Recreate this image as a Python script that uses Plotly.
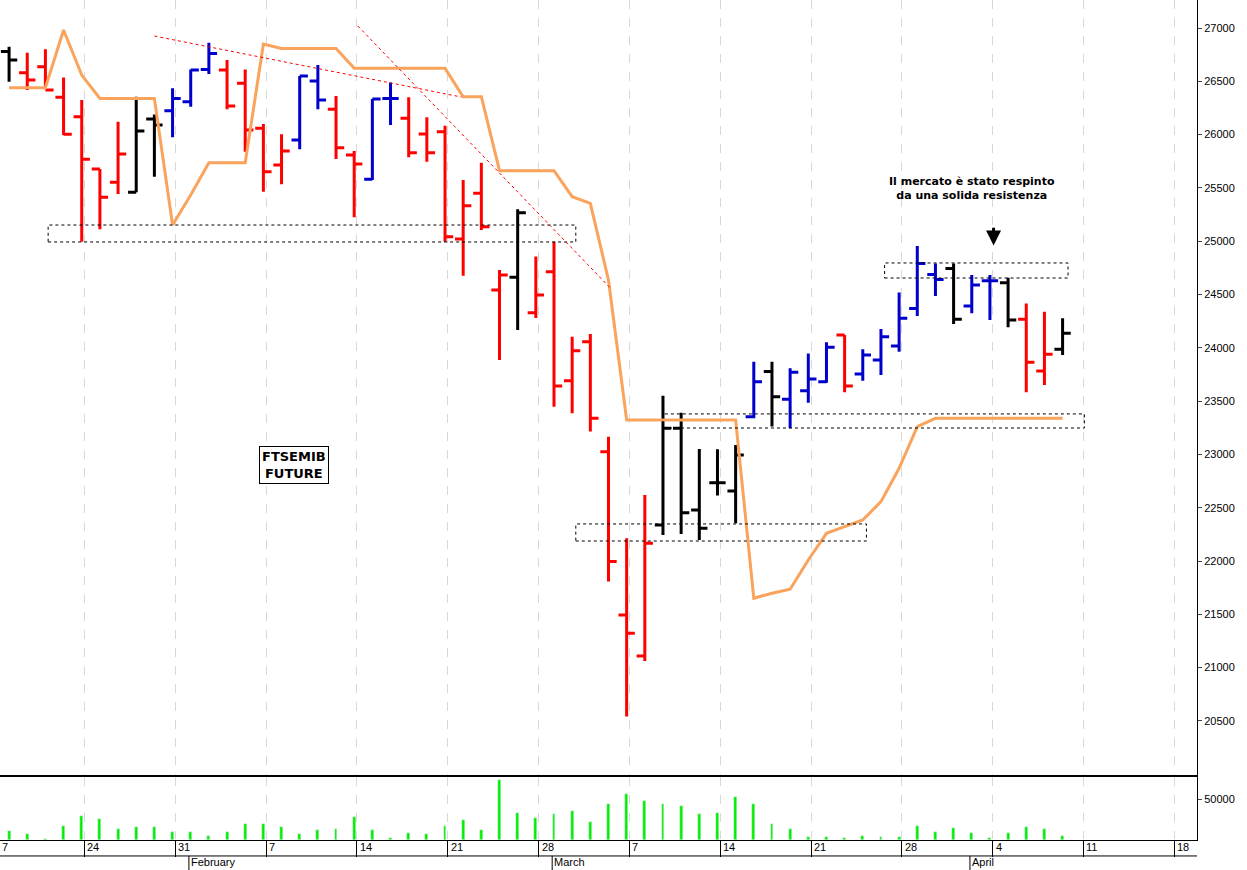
import plotly.graph_objects as go
from plotly.subplots import make_subplots

# trading day index 0 = 18 Jan 2022 ... 58 = 8 Apr 2022
opens = [26780, 26581, 26637, 26350, 26168, 25678, 25553, 25459, 26147, 26225,
         26309, 26612, 26606, 26481, 26059, 25715, 25950, 26503, 26237, 25809,
         25581, 26340, 26153, 26006, 26028, 25021, 25450, 24543, 24662, 24330,
         24714, 23692, 24058, 23026, 21494, 21110, 22338, 23245, 22479, 22735,
         22657, 23354, 23777, 23517, 23598, 23683, 24120, 23755, 23886, 24017,
         24370, 24689, 24745, 24392, 24630, 24611, 24267, 23783, 23986]
highs = [26825, 26769, 26800, 26537, 26325, 25678, 26122, 26356, 26190, 26434,
         26612, 26862, 26700, 26612, 26100, 26003, 26550, 26653, 26362, 25846,
         26334, 26490, 26350, 26162, 26084, 25575, 25737, 24731, 25299, 24856,
         24996, 24105, 24130, 23167, 22213, 22620, 23551, 23392, 23051, 23048,
         23089, 23870, 23870, 23808, 23948, 24052, 24120, 23986, 24177, 24520,
         24955, 24792, 24792, 24683, 24683, 24658, 24417, 24339, 24277]
lows = [26497, 26419, 26450, 25997, 24996, 25112, 25443, 25459, 25606, 25975,
        26262, 26569, 26237, 25840, 25465, 25534, 25862, 26237, 25771, 25224,
        25575, 26090, 25787, 25746, 24996, 24677, 25106, 23886, 24168, 24280,
        23448, 23386, 23214, 21807, 20541, 21063, 22245, 22254, 22198, 22614,
        22354, 23339, 23261, 23245, 23486, 23673, 23583, 23692, 23745, 23964,
        24298, 24486, 24224, 24324, 24261, 24192, 23583, 23651, 23933]
closes = [26700, 26512, 26419, 26003, 25768, 25412, 25818, 26034, 26090, 26340,
          26606, 26762, 26268, 26043, 25653, 25846, 26550, 26325, 25878, 25725,
          26334, 26340, 25831, 25831, 25043, 25334, 25137, 24684, 25268, 24495,
          23642, 23973, 23339, 21995, 21323, 22167, 23245, 22454, 22307, 22735,
          22995, 23683, 23542, 23770, 23708, 24005, 23642, 23933, 24105, 24277,
          24792, 24642, 24267, 24589, 24630, 24261, 23864, 23939, 24136]
bar_colors = ["k", "r", "r", "r", "r", "r", "r", "k", "k", "b",
              "b", "b", "r", "r", "r", "r", "b", "b", "r", "r",
              "b", "b", "r", "r", "r", "r", "r", "r", "k", "r",
              "r", "r", "r", "r", "r", "r", "k", "k", "k", "k",
              "k", "b", "k", "b", "b", "b", "r", "b", "b", "b",
              "b", "b", "k", "b", "b", "k", "r", "r", "k"]
orange_line = [26440, 26440, 26440, 26981, 26559, 26340, 26340, 26340, 26340, 25153,
               25434, 25737, 25737, 25737, 26850, 26809, 26809, 26809, 26809, 26622,
               26622, 26622, 26622, 26622, 26622, 26356, 26356, 25662, 25662, 25662,
               25662, 25418, 25356, 24636, 23323, 23323, 23323, 23323, 23323, 23323,
               23323, 21651, 21698, 21735, 22010, 22260, 22323, 22385, 22557, 22870,
               23261, 23339, 23339, 23339, 23339, 23339, 23339, 23339, 23339]
volume = [11000, 7300, 1200, 17000, 29300, 25200, 13000, 15400, 16300, 9800,
          9800, 4900, 9800, 19100, 19900, 15900, 7300, 12200, 13400, 28000,
          11800, 2400, 8500, 6900, 17500, 24400, 11800, 73200, 33300, 26400,
          31300, 35400, 22400, 43900, 56100, 48000, 43900, 41500, 31700, 33300,
          52800, 43900, 19500, 13000, 3700, 3300, 2400, 4900, 3700, 3700,
          17100, 9300, 14200, 8500, 2400, 8500, 15400, 13800, 5300]

# weekly ticks (Mondays) and month starts
week_idx = [4, 9, 14, 19, 24, 29, 34, 39, 44, 49, 54, 59, 64]
week_lbl = ["24", "31", "7", "14", "21", "28", "7", "14", "21", "28", "4", "11", "18"]
month_idx = [10, 30, 53]
month_lbl = ["February", "March", "April"]

# zones (x from, x to, price low, price high) and trendlines
zones = [(2.15, 31.2, 24993, 25152), (31.2, 47.2, 22188, 22348),
         (36.0, 59.2, 23248, 23380), (48.2, 58.3, 24655, 24796)]
trendlines = [(8.0, 26925, 24.9, 26353), (19.2, 27019, 33.1, 24561)]

x = list(range(len(closes)))
cmap = {"r": "#ff0000", "b": "#0000cc", "k": "#000000"}

fig = make_subplots(rows=2, cols=1, shared_xaxes=True, vertical_spacing=0.0024,
                    row_heights=[0.9226, 0.075])

for key, col in cmap.items():
    idx = [i for i in x if bar_colors[i] == key]
    fig.add_trace(go.Ohlc(
        x=idx, open=[opens[i] for i in idx], high=[highs[i] for i in idx],
        low=[lows[i] for i in idx], close=[closes[i] for i in idx],
        increasing=dict(line=dict(color=col, width=3)),
        decreasing=dict(line=dict(color=col, width=3)),
        tickwidth=0.45, showlegend=False, hoverinfo="skip"), row=1, col=1)

fig.add_trace(go.Scatter(x=x, y=orange_line, mode="lines",
                         line=dict(color="#f9a35c", width=3), showlegend=False),
              row=1, col=1)

fig.add_trace(go.Bar(x=x, y=volume, marker_color="#00ee00", width=0.16,
                     showlegend=False), row=2, col=1)

for x0, x1, y0, y1 in zones:
    fig.add_shape(type="rect", x0=x0, x1=x1, y0=y0, y1=y1, xref="x", yref="y",
                  line=dict(color="black", width=1, dash="dot"))
for x0, y0, x1, y1 in trendlines:
    fig.add_shape(type="line", x0=x0, x1=x1, y0=y0, y1=y1, xref="x", yref="y",
                  line=dict(color="#ff0000", width=1, dash="dot"))

font = dict(family="Liberation Sans Narrow, Liberation Sans", size=11, color="black")
grid = dict(showgrid=True, gridcolor="#d8d8d8", griddash="dash", gridwidth=1,
            tickmode="array", tickvals=[w + 0.15 for w in week_idx],
            range=[-0.5, 65.4], zeroline=False)
fig.update_xaxes(**grid, showticklabels=False, showline=True, linecolor="black",
                 rangeslider_visible=False)
fig.update_xaxes(row=2, col=1, ticks="outside", ticklen=16, tickcolor="black",
                 mirror=True)
fig.update_yaxes(side="right", range=[19993, 27263], tickvals=list(range(20500, 27001, 500)),
                 tickformat="d", ticks="outside", ticklen=4, showgrid=False, showline=True,
                 linecolor="black", tickfont=font, row=1, col=1)
fig.update_yaxes(side="right", range=[0, 77000], tickvals=[50000], tickformat="d",
                 ticks="outside", ticklen=4, showgrid=False, showline=True,
                 linecolor="black", tickfont=font, row=2, col=1)

for w, t in zip(week_idx, week_lbl):
    fig.add_annotation(x=w + 0.15, y=0, xref="x2", yref="paper", yanchor="top",
                       xanchor="left", text=t, showarrow=False, font=font, xshift=1, yshift=1)
fig.add_annotation(x=0, y=0, xref="paper", yref="paper", yanchor="top", xanchor="left",
                   text="7", showarrow=False, font=font, yshift=1)
fig.add_shape(type="line", xref="paper", yref="paper", x0=0, x1=1, y0=-0.019, y1=-0.019,
              line=dict(color="black", width=1))
for m, t in zip(month_idx, month_lbl):
    fig.add_shape(type="line", xref="x2", yref="paper", x0=m - 0.1, x1=m - 0.1,
                  y0=-0.019, y1=-0.04, line=dict(color="black", width=1))
    fig.add_annotation(x=m - 0.1, y=-0.019, xref="x2", yref="paper", yanchor="top",
                       xanchor="left", text=t, showarrow=False, font=font, yshift=2)

bold = dict(family="DejaVu Sans", size=11, color="black")
fig.add_annotation(x=53.0, y=25499, xref="x", yref="y",
                   text="<b>Il mercato è stato respinto<br>da una solida resistenza</b>",
                   showarrow=False, font=bold, align="center")
fig.add_annotation(x=54.2, y=24960, ax=54.2, ay=25140, xref="x", yref="y",
                   axref="x", ayref="y", text="", showarrow=True, arrowhead=2,
                   arrowsize=1, arrowwidth=3, arrowcolor="black")
fig.add_annotation(x=15.7, y=22901, xref="x", yref="y",
                   text="<b>FTSEMIB<br>FUTURE</b>", showarrow=False,
                   font=dict(family="DejaVu Sans", size=13, color="black"),
                   bordercolor="black", borderwidth=1, borderpad=2, bgcolor="white")

fig.update_layout(width=1247, height=870, margin=dict(l=0, r=50, t=0, b=30),
                  plot_bgcolor="white", paper_bgcolor="white", showlegend=False,
                  bargap=0)

fig.write_html("out.html", config={"displayModeBar": False},
               post_script="document.body.style.margin='0';")
